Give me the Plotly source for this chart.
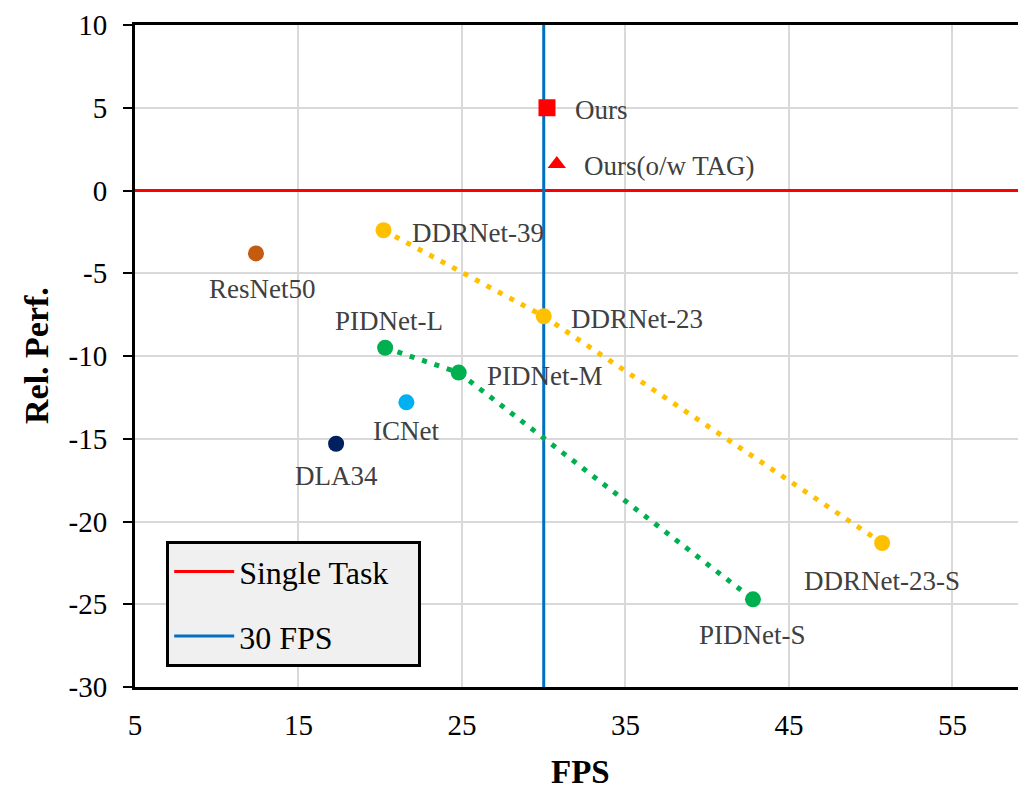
import plotly.graph_objects as go

# ---- data ----
ddr_names = ["DDRNet-39", "DDRNet-23", "DDRNet-23-S"]
ddr_fps = [20.2, 30.0, 50.7]
ddr_perf = [-2.4, -7.6, -21.3]

pid_names = ["PIDNet-L", "PIDNet-M", "PIDNet-S"]
pid_fps = [20.3, 24.8, 42.8]
pid_perf = [-9.5, -11.0, -24.7]

other_names = ["ResNet50", "ICNet", "DLA34"]
other_fps = [12.4, 21.6, 17.3]
other_perf = [-3.8, -12.8, -15.3]
other_colors = ["#C55A11", "#00B0F0", "#002060"]

ours_name = "Ours"
ours_fps = 30.2
ours_perf = 5.0
tag_name = "Ours(o/w TAG)"
tag_fps = 30.8
tag_perf = 1.6

single_task_value = 0
fps_threshold = 30

x_range = [5, 59.5]
y_range = [-30, 10]
x_ticks = [5, 15, 25, 35, 45, 55]
y_ticks = [10, 5, 0, -5, -10, -15, -20, -25, -30]
x_tick_labels = [str(v) for v in x_ticks]
y_tick_labels = [str(v) for v in y_ticks]

# label placement (pixel offsets from the marker): name -> (xshift, yshift, xanchor)
label_offsets = {
    "DDRNet-39": (26, -3, "left"),
    "DDRNet-23": (25, -3, "left"),
    "DDRNet-23-S": (0, -38, "center"),
    "PIDNet-L": (4, 27, "center"),
    "PIDNet-M": (26, -3, "left"),
    "PIDNet-S": (0, -36, "center"),
    "ResNet50": (6, -36, "center"),
    "ICNet": (0, -29, "center"),
    "DLA34": (0, -32, "center"),
    "Ours": (26, -2, "left"),
    "Ours(o/w TAG)": (25, -2, "left"),
}

SERIF = "Liberation Serif"
YELLOW = "#FFC000"
GREEN = "#00B050"
RED = "#FF0000"
BLUE = "#0070C0"

fig = go.Figure()

# reference lines (legend entries)
fig.add_trace(go.Scatter(
    x=x_range, y=[single_task_value, single_task_value], mode="lines",
    line=dict(color=RED, width=3), name="Single Task&nbsp;&nbsp;&nbsp;",
    legendgroup="a"))
fig.add_trace(go.Scatter(
    x=[fps_threshold, fps_threshold], y=y_range, mode="lines",
    line=dict(color=BLUE, width=3), name="30 FPS",
    legendgroup="b"))

# DDRNet series
fig.add_trace(go.Scatter(
    x=ddr_fps, y=ddr_perf, mode="lines+markers",
    line=dict(color=YELLOW, width=5, dash="5px,8px"),
    marker=dict(color=YELLOW, size=16, symbol="circle"),
    showlegend=False))
# PIDNet series
fig.add_trace(go.Scatter(
    x=pid_fps, y=pid_perf, mode="lines+markers",
    line=dict(color=GREEN, width=5, dash="5px,8px"),
    marker=dict(color=GREEN, size=16, symbol="circle"),
    showlegend=False))
# other single points
fig.add_trace(go.Scatter(
    x=other_fps, y=other_perf, mode="markers",
    marker=dict(color=other_colors, size=16, symbol="circle"),
    showlegend=False))
# ours
fig.add_trace(go.Scatter(
    x=[ours_fps], y=[ours_perf], mode="markers",
    marker=dict(color=RED, size=17, symbol="square"),
    showlegend=False))
fig.add_trace(go.Scatter(
    x=[tag_fps], y=[tag_perf], mode="markers",
    marker=dict(color=RED, size=16, symbol="triangle-up"),
    showlegend=False))

# point labels
all_names = ddr_names + pid_names + other_names + [ours_name, tag_name]
all_x = ddr_fps + pid_fps + other_fps + [ours_fps, tag_fps]
all_y = ddr_perf + pid_perf + other_perf + [ours_perf, tag_perf]
for n, xv, yv in zip(all_names, all_x, all_y):
    xs, ys, xa = label_offsets[n]
    fig.add_annotation(
        x=xv, y=yv, text=n, showarrow=False,
        xshift=xs, yshift=ys, xanchor=xa, yanchor="middle",
        font=dict(family=SERIF, size=27, color="#404040"))

# axis titles
fig.add_annotation(
    x=0.5, y=0, xref="paper", yref="paper", text="<b>FPS</b>",
    showarrow=False, yshift=-85, yanchor="middle", xanchor="center",
    font=dict(family=SERIF, size=33, color="black"))
fig.add_annotation(
    x=0, y=0.5, xref="paper", yref="paper", text="<b>Rel. Perf.</b>",
    showarrow=False, xshift=-99, xanchor="center", yanchor="middle",
    textangle=-90, font=dict(family=SERIF, size=34, color="black"))

fig.update_layout(
    width=1018, height=782,
    margin=dict(l=127, r=0, t=17, b=103),
    paper_bgcolor="white", plot_bgcolor="white",
    showlegend=True,
    legend=dict(
        x=0.035, y=0.03, xanchor="left", yanchor="bottom",
        bgcolor="#F0F0F0", bordercolor="black", borderwidth=3,
        font=dict(family=SERIF, size=32, color="black"),
        tracegroupgap=20, itemwidth=60,
    ),
    font=dict(family=SERIF, color="black"),
)

fig.update_xaxes(
    range=x_range, tickmode="array", tickvals=x_ticks, ticktext=x_tick_labels,
    showgrid=True, gridcolor="#D9D9D9", gridwidth=1.5,
    showline=True, linecolor="black", linewidth=3, mirror=True,
    ticks="", ticklabelstandoff=10, zeroline=False,
    tickfont=dict(family=SERIF, size=29, color="black"),
)
fig.update_yaxes(
    range=y_range, tickmode="array", tickvals=y_ticks, ticktext=y_tick_labels,
    showgrid=True, gridcolor="#D9D9D9", gridwidth=1.5,
    showline=True, linecolor="black", linewidth=3, mirror=False,
    ticks="outside", ticklen=9, tickwidth=2, tickcolor="black",
    ticklabelstandoff=10, zeroline=False,
    tickfont=dict(family=SERIF, size=29, color="black"),
)

fig.write_html("out.html")
